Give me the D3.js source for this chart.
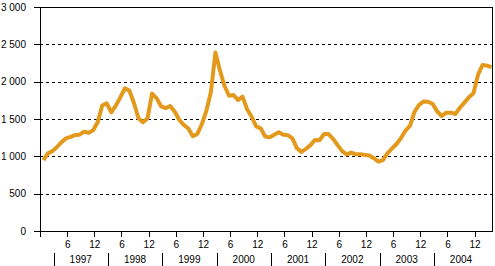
<!DOCTYPE html>
<html>
<head>
<meta charset="utf-8">
<script src="https://cdn.jsdelivr.net/npm/d3@7"></script>
<style>
  body { margin: 0; background: #fff; }
  svg text { font-family: "Liberation Sans", Arial, sans-serif; font-size: 10px; fill: #000; }
</style>
</head>
<body>
<div id="chart"></div>
<script>
// monthly values, Jan 1997 - Apr 2005
var values = [
  950, 1040, 1070, 1125, 1190, 1240, 1260, 1285, 1290, 1330, 1316, 1350,
  1460, 1680, 1710, 1590, 1680, 1790, 1910, 1880, 1715, 1510, 1455, 1510,
  1840, 1780, 1670, 1645, 1674, 1600, 1490, 1420, 1375, 1270, 1300, 1430,
  1610, 1860, 2390, 2150, 1945, 1812, 1821, 1754, 1799, 1630, 1530, 1400,
  1375, 1265, 1254, 1290, 1322, 1290, 1284, 1241, 1110, 1060, 1100, 1150,
  1220, 1215, 1299, 1299, 1235, 1150, 1070, 1025, 1050, 1027, 1027, 1018,
  1010, 975, 930, 950, 1040, 1105, 1165, 1245, 1345, 1410, 1600, 1690,
  1735, 1730, 1700, 1600, 1540, 1585, 1585, 1567, 1650, 1719, 1790, 1844,
  2090, 2223, 2215, 2195
];
var years = ["1997", "1998", "1999", "2000", "2001", "2002", "2003", "2004"];
var monthTicks = [6, 12, 18, 24, 30, 36, 42, 48, 54, 60, 66, 72, 78, 84, 90, 96];
var yTicks = [0, 500, 1000, 1500, 2000, 2500, 3000];

var svgWidth = 495;
var svgHeight = 266;
var margin = { top: 7, left: 40 };
var width = 452;
var height = 224;

var svg = d3.select("#chart")
  .append("svg")
  .attr("width", svgWidth)
  .attr("height", svgHeight);

var chart = svg.append("g")
  .attr("transform", `translate(${margin.left}, ${margin.top})`);

var x = d3.scaleLinear().domain([0, 99.85]).range([0, width]);
var y = d3.scaleLinear().domain([0, 3000]).range([height, 0]);

var fi = d3.formatLocale({ decimal: ",", thousands: " ", grouping: [3], currency: ["", ""] });
var fmt = fi.format(",");

// dashed grid lines
chart.selectAll(".grid")
  .data(yTicks.filter(d => d > 0 && d < 3000))
  .enter().append("line")
  .attr("x1", 0)
  .attr("x2", width)
  .attr("y1", d => Math.round(y(d)) + 0.5)
  .attr("y2", d => Math.round(y(d)) + 0.5)
  .attr("stroke", "#000")
  .attr("stroke-dasharray", "3,3")
  .attr("shape-rendering", "crispEdges");

// top and right border
chart.append("line")
  .attr("x1", 0).attr("x2", width + 0.5)
  .attr("y1", 0.5).attr("y2", 0.5)
  .attr("stroke", "#000").attr("shape-rendering", "crispEdges");
chart.append("line")
  .attr("x1", width + 0.5).attr("x2", width + 0.5)
  .attr("y1", 0).attr("y2", height + 0.5)
  .attr("stroke", "#000").attr("shape-rendering", "crispEdges");

// y axis
var yAxis = d3.axisLeft(y).tickValues(yTicks).tickSize(6).tickPadding(8).tickFormat(fmt);
var yg = chart.append("g").call(yAxis);
yg.select(".domain").remove();
yg.append("line")
  .attr("x1", 0.5).attr("x2", 0.5)
  .attr("y1", 0).attr("y2", height + 6)
  .attr("stroke", "#000").attr("shape-rendering", "crispEdges");
yg.selectAll("text").style("font-family", null).style("font-size", null).attr("font-family", null).attr("font-size", null);

// x axis (months)
var xAxis = d3.axisBottom(x)
  .tickValues(monthTicks)
  .tickSize(6)
  .tickPadding(4)
  .tickFormat(d => d % 12 === 0 ? "12" : "6");
var xg = chart.append("g")
  .attr("transform", `translate(0, ${height})`)
  .call(xAxis);
xg.select(".domain").attr("d", `M0,0.5H${width + 0.5}`);
xg.selectAll("text").attr("font-family", null).attr("font-size", null);
svg.selectAll(".tick line").attr("shape-rendering", "crispEdges");

// year separators and labels
chart.selectAll(".sep")
  .data(years)
  .enter().append("line")
  .attr("x1", (d, i) => Math.round(x(3 + 12 * i)) + 0.5)
  .attr("x2", (d, i) => Math.round(x(3 + 12 * i)) + 0.5)
  .attr("y1", height + 22)
  .attr("y2", height + 35)
  .attr("stroke", "#000")
  .attr("shape-rendering", "crispEdges");

chart.selectAll(".year")
  .data(years)
  .enter().append("text")
  .attr("x", (d, i) => x(9 + 12 * i))
  .attr("y", height + 32)
  .attr("text-anchor", "middle")
  .text(d => d);

// the line
var line = d3.line()
  .x((d, i) => x(i + 0.75))
  .y(d => y(d));

chart.append("path")
  .datum(values)
  .attr("fill", "none")
  .attr("stroke", "#E39A1C")
  .attr("stroke-width", 4)
  .attr("stroke-linejoin", "round")
  .attr("d", line);
</script>
</body>
</html>
